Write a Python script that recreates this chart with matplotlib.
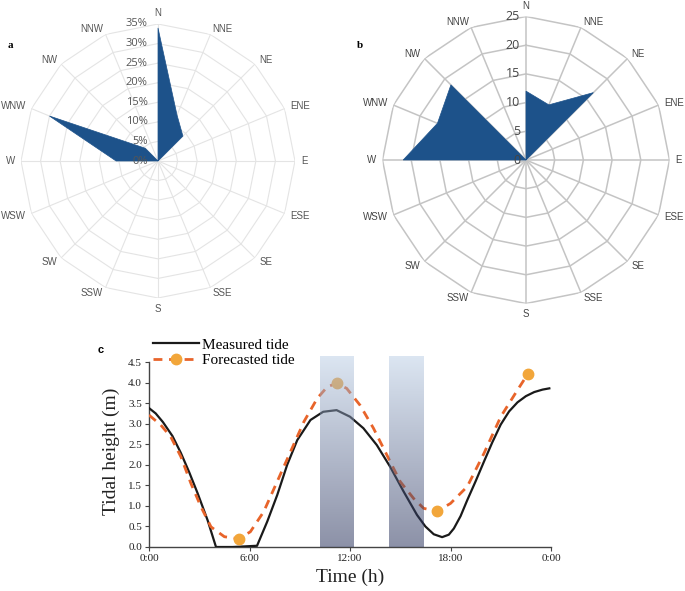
import numpy as np
import matplotlib
matplotlib.use("Agg")
import matplotlib.pyplot as plt
from matplotlib.lines import Line2D

# ---------------- data ----------------
directions = ['N', 'NNE', 'NE', 'ENE', 'E', 'ESE', 'SE', 'SSE',
              'S', 'SSW', 'SW', 'WSW', 'W', 'WNW', 'NW', 'NNW']
wind_a = [34, 12.7, 9, 0, 0, 0, 0, 0, 0, 0, 0, 0, 10.7, 30, 4.6, 0]   # percent
wind_b = [12, 10.4, 16.6, 0, 0, 0, 0, 0, 0, 0, 0, 0, 21.4, 16.7, 18.5, 0]
ticks_a = [0, 5, 10, 15, 20, 25, 30, 35]
ticks_b = [0, 5, 10, 15, 20, 25]

meas_t = [0, 0.4, 0.83, 1.4, 1.9, 2.4, 2.9, 3.5, 4.0, 5.0, 6.45, 7.06, 7.66, 8.25,
          8.85, 9.64, 10.4, 11.2, 12.0, 12.8, 13.6, 14.4, 15.2, 16.0, 16.5, 17.0,
          17.5, 17.9, 18.2, 18.6, 19.0, 19.5, 20.0, 20.5, 21.0, 21.5, 22.0, 22.5,
          23.0, 23.5, 23.9]
meas_h = [3.38, 3.25, 3.04, 2.7, 2.29, 1.82, 1.31, 0.65, 0.0, 0.0, 0.03, 0.62, 1.27, 2.0,
          2.6, 3.09, 3.29, 3.33, 3.17, 2.89, 2.48, 1.95, 1.35, 0.78, 0.5, 0.31,
          0.24, 0.3, 0.45, 0.75, 1.14, 1.6, 2.08, 2.55, 2.98, 3.3, 3.52, 3.67,
          3.77, 3.83, 3.86]

fc_t = [0, 0.7, 1.3, 1.9, 2.5, 3.1, 3.7, 4.5, 5.35, 6.05, 6.85, 7.65, 8.45, 9.25,
        10.05, 10.65, 11.2, 11.8, 12.6, 13.4, 14.2, 15.0, 15.8, 16.4, 17.2, 18.0,
        19.0, 20.0, 21.0, 22.0, 22.6]
fc_h = [3.21, 2.97, 2.68, 2.2, 1.55, 0.98, 0.49, 0.25, 0.2, 0.37, 0.86, 1.59, 2.32, 3.05,
        3.62, 3.9, 3.98, 3.86, 3.45, 2.89, 2.24, 1.59, 1.18, 0.94, 0.87, 1.06,
        1.47, 2.28, 3.17, 3.82, 4.2]
extreme_t = [5.35, 11.2, 17.2, 22.6]
extreme_h = [0.2, 3.98, 0.87, 4.2]

shade_spans = [(10.2, 12.2), (14.35, 16.4)]
x_ticks = [0, 6, 12, 18, 24]
x_ticklabels = ['0:00', '6:00', '12:00', '18:00', '0:00']
y_ticks = [0, 0.5, 1, 1.5, 2, 2.5, 3, 3.5, 4, 4.5]

# ---------------- figure ----------------
W, H = 685, 591
fig = plt.figure(figsize=(W / 100, H / 100), dpi=100)
fig.patch.set_facecolor('white')

FILL = '#1d528a'
SANS = ['Liberation Sans', 'DejaVu Sans']
SERIF = ['Liberation Serif', 'DejaVu Serif']
DASH = (0, (3.2, 2.4))


def rose(cx, cy, R, values, ticks, grid_color, grid_lw, lab_color, tick_color,
         tick_fs, tick_fmt, tick_off, tick_family):
    ax = fig.add_axes([(cx - R) / W, 1 - (cy + R) / H, 2 * R / W, 2 * R / H],
                      projection='polar')
    ax.set_theta_zero_location('N')
    ax.set_theta_direction(-1)
    ax.grid(False)
    ax.spines['polar'].set_visible(False)
    ax.set_xticks([])
    ax.set_yticks([])
    ax.patch.set_alpha(0)
    rmax = ticks[-1]
    ax.set_ylim(0, rmax)
    n = len(directions)
    th = np.arange(n) * 2 * np.pi / n
    thc = np.append(th, th[0])
    ax.fill(th, values, color=FILL, zorder=2, lw=0.5, ec=FILL)
    for r in ticks[1:]:
        ax.plot(thc, [r] * (n + 1), color=grid_color, lw=grid_lw, zorder=1)
    for t in th:
        ax.plot([t, t], [0, rmax], color=grid_color, lw=grid_lw, zorder=1)
    for t, name in zip(th, directions):
        s, c = np.sin(t), np.cos(t)
        ha = 'center' if abs(s) < 0.01 else ('left' if s > 0 else 'right')
        va = 'bottom' if c > 0.99 else ('top' if c < -0.99 else 'center')
        off = 4.3
        ax.annotate(name, xy=(t, rmax), xytext=(off * s, off * c),
                    textcoords='offset points', ha=ha, va=va, fontsize=7,
                    color=lab_color, family=SANS, annotation_clip=False)
    for r in ticks:
        ax.annotate(tick_fmt.format(r), xy=(0, r), xytext=(tick_off, 0),
                    textcoords='offset points', ha='right', va='center',
                    fontsize=tick_fs, color=tick_color, family=tick_family,
                    annotation_clip=False, zorder=5)
    return ax


rose(158, 161, 137, wind_a, ticks_a, '#e4e4e4', 0.8, '#555555', '#555555',
     8, '{}%', -7.5, ['Open Sans', 'DejaVu Sans'])
rose(526, 160, 143.5, wind_b, ticks_b, '#c4c4c4', 1.1, '#444444', '#444444',
     9, '{}', -4.3, ['Open Sans', 'DejaVu Sans'])

fig.text(10 / W, 1 - 46 / H, 'a', fontsize=8, fontweight='bold', family=SERIF,
         ha='center', va='center')
fig.text(360 / W, 1 - 46 / H, 'b', fontsize=8, fontweight='bold', family=SERIF,
         ha='center', va='center')
fig.text(101 / W, 1 - 350 / H, 'c', fontsize=8, fontweight='bold', family=SANS,
         ha='center', va='center')

# ---------------- tide panel ----------------
x0, x1 = 149, 551
yb = 547
ytop_val = 4.65
px_per_m = 41.1
ytop_px = yb - ytop_val * px_per_m
axc = fig.add_axes([x0 / W, 1 - yb / H, (x1 - x0) / W, (yb - ytop_px) / H])
axc.set_xlim(0, 24)
axc.set_ylim(0, ytop_val)
for side in ['top', 'right']:
    axc.spines[side].set_visible(False)
for side in ['left', 'bottom']:
    axc.spines[side].set_color('#444444')
    axc.spines[side].set_linewidth(1.0)
axc.spines['left'].set_bounds(0, 4.5)
axc.set_xticks(x_ticks)
axc.set_xticklabels(x_ticklabels)
axc.set_yticks(y_ticks)
axc.set_yticklabels(['{:.1f}'.format(v) for v in y_ticks])
axc.tick_params(axis='both', direction='out', length=3, width=0.8, color='#444444',
                labelsize=8, pad=2)
for lab in axc.get_xticklabels() + axc.get_yticklabels():
    lab.set_family(SERIF)
    lab.set_color('#222222')
axc.set_xlabel('Time (h)', fontsize=14, family=SERIF, labelpad=4, color='#222222')
axc.set_ylabel('Tidal height (m)', fontsize=14, family=SERIF, labelpad=6, color='#222222')

axc.plot(meas_t, meas_h, color='#1a1a1a', lw=1.6, zorder=3, solid_joinstyle='round')
axc.plot(fc_t, fc_h, color='#e8642a', lw=2.0, ls=DASH, zorder=3)
axc.plot(extreme_t, extreme_h, ls='none', marker='o', ms=7.5, color='#f2a63a',
         mec='#f2a63a', zorder=4)

top = np.array([185, 205, 229]) / 255.0
bot = np.array([25, 35, 80]) / 255.0
g = np.linspace(0, 1, 200)[:, None]
grad = np.zeros((200, 1, 4))
grad[:, 0, :3] = top * (1 - g) + bot * g
grad[:, 0, 3] = 0.5
for a, b in shade_spans:
    axc.imshow(grad, extent=(a, b, 0, ytop_val), aspect='auto', zorder=5,
               interpolation='bilinear')
axc.set_xlim(0, 24)
axc.set_ylim(0, ytop_val)

handles = [Line2D([], [], color='#1a1a1a', lw=1.6),
           Line2D([], [], color='#e8642a', lw=2.0, ls=DASH, marker='o',
                  ms=7.5, mfc='#f2a63a', mec='#f2a63a')]
fig.legend(handles, ['Measured tide', 'Forecasted tide'], loc='upper left',
           bbox_to_anchor=(153 / W, 1 - 338 / H), frameon=False, borderpad=0,
           borderaxespad=0, handlelength=3.0, handletextpad=0.2, labelspacing=0.1,
           prop={'family': SERIF, 'size': 11})

fig.savefig('out.png', dpi=100, facecolor='white')
